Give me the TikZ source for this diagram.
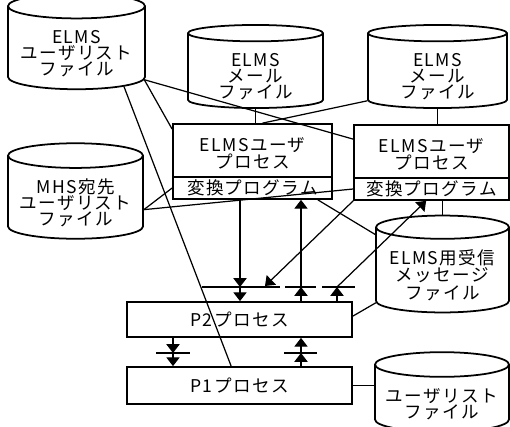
\documentclass[tikz,border=0pt]{standalone}
\usepackage{fontspec}
\setmainfont{Noto Sans CJK JP}[LetterSpace=8]
\usetikzlibrary{shapes.geometric, arrows.meta, calc}
\newcommand{\boxfont}{\fontsize{10}{11}\selectfont}
\newcommand{\filetop}{\rule{0pt}{14pt}}
\tikzstyle{datafile} = [cylinder, shape border rotate=90, draw=black, line width=1pt, aspect=0.22, align=center, inner sep=0pt, anchor=shape center]
\tikzstyle{process} = [rectangle, draw=black, line width=1pt, align=center, inner sep=0pt]
\tikzstyle{line} = [line width=0.7pt]
\tikzstyle{arrow} = [line width=0.7pt, -{Triangle[width=7.5pt,length=5pt]}]
\tikzstyle{gatebar} = [line width=1.7pt]

\begin{document}
\begin{tikzpicture}[x=0.02cm, y=-0.02cm, every node/.style={font=\boxfont}]
	\useasboundingbox (0,0) rectangle (510,426);

	\node (D1) [datafile, minimum width=2.74cm, minimum height=1.46cm] at (76.5,41.5) {\filetop ELMS\\[-2pt]ユーザリスト\\[-2pt]ファイル};
	\node (D2) [datafile, minimum width=2.70cm, minimum height=1.46cm] at (255.5,66.5) {\filetop ELMS\\[-2pt]メール\\[-2pt]ファイル};
	\node (D3) [datafile, minimum width=2.78cm, minimum height=1.46cm] at (437.5,66.5) {\filetop ELMS\\[-2pt]メール\\[-2pt]ファイル};
	\node (D4) [datafile, minimum width=2.70cm, minimum height=1.44cm] at (75.5,191) {\filetop MHS宛先\\[-2pt]ユーザリスト\\[-2pt]ファイル};
	\node (D5) [datafile, minimum width=2.66cm, minimum height=1.76cm] at (442.5,264) {\filetop ELMS用受信\\[-1pt]メッセージ\\[-1pt]ファイル};
	\node (D6) [datafile, minimum width=2.68cm, minimum height=1.28cm] at (442,392) {\filetop ユーザリスト\\[-2pt]ファイル};

	\node (U1) [process, minimum width=3.18cm, minimum height=1.06cm] at (252.5,150.5) {\rule{0pt}{11pt}ELMSユーザ\\[-1pt]プロセス};
	\node (C1) [process, minimum width=3.18cm, minimum height=0.44cm] at (252.5,188) {変換プログラム};
	\node (U2) [process, minimum width=3.10cm, minimum height=1.06cm] at (431.5,151.5) {\rule{0pt}{11pt}ELMSユーザ\\[-1pt]プロセス};
	\node (C2) [process, minimum width=3.10cm, minimum height=0.44cm] at (431.5,189) {変換プログラム};
	\node (P2) [process, minimum width=4.5cm, minimum height=0.70cm] at (239.5,319.5) {P2プロセス};
	\node (P1) [process, minimum width=4.5cm, minimum height=0.74cm] at (239.5,385.5) {P1プロセス};

	% files -- processes
	\draw [line] (D2.south) -- (D2.south |- U1.north);
	\draw [line] (D3.south) -- (D3.south |- U2.north);
	\draw [line] (D1.-25) -- ($(U2.north west)+(0,15)$);
	\draw [line] (D1.-25) -- ($(U1.north west)+(0,6)$);
	\draw [line] (D3.203) -- ($(U1.north)+(10,0)$);
	\draw [line] (D1.-39) -- ($(P1.north west)+(105,0)$);
	\draw [line] (D4.-10) -- (C1.west);
	\draw [line] (D4.-10) -- (C2.west);
	\draw [line] ($(C1.south east)+(-15,0)$) -- (D5.152);
	\draw [line] (D5.north) -- (D5.north |- C2.south);
	\draw [line] (D5.206) -- ($(P2.north east)+(0,15)$);
	\draw [line] (P1.east) -- (P1.east -| D6.west);

	% gates
	\coordinate (g1) at (240,287);
	\coordinate (g2) at (301,287);
	\coordinate (g3) at (337,287);
	\coordinate (g4) at (265,286);
	\coordinate (g5) at (173,353);
	\coordinate (g6) at (301,353);

	\draw [gatebar] (202,287) -- (280,287);
	\draw [gatebar] (285,287) -- (316,287);
	\draw [gatebar] (322,287) -- (355,287);
	\draw [gatebar] (156,353) -- (190,353);
	\draw [gatebar] (284,353) -- (317,353);

	\draw [arrow] (g1 |- C1.south) -- (g1);
	\draw [arrow] (g1) -- (g1 |- P2.north);
	\draw [arrow] (g2 |- P2.north) -- (g2);
	\draw [arrow] (g2) -- (g2 |- C1.south);
	\draw [arrow] (g3 |- P2.north) -- (g3);
	\draw [arrow] (g3) -- ($(C2.south west)+(73,0)$);
	\draw [arrow] (C2.south west) -- (g4);
	\draw [arrow] (g5 |- P2.south) -- (g5);
	\draw [arrow] (g5) -- (g5 |- P1.north);
	\draw [arrow] (g6 |- P1.north) -- (g6);
	\draw [arrow] (g6) -- (g6 |- P2.south);
\end{tikzpicture}
\end{document}
